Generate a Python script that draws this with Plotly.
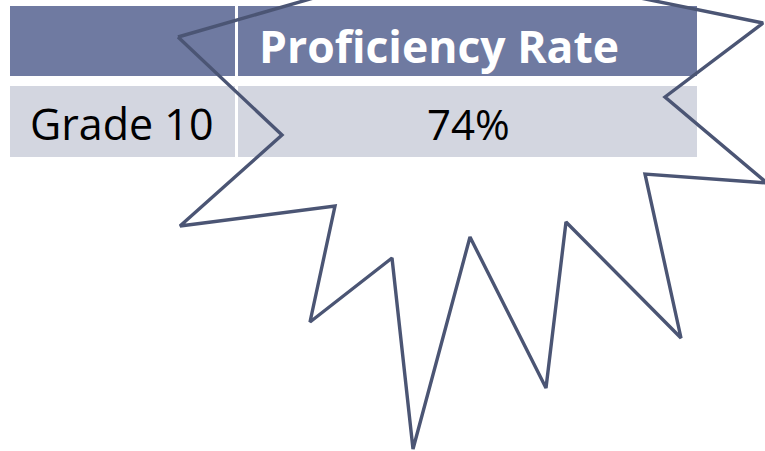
import plotly.graph_objects as go

# ---- data ----
row_labels = ["Grade 10"]
column_headers = ["", "Proficiency Rate"]
proficiency_values = ["74%"]

# starburst outline vertices (pixel space, y downward)
star_x = [178, 282, 180, 335, 310, 392, 413, 470, 546, 566, 681, 645, 767, 665, 763, 449, 178]
star_y = [37, 135, 226, 206, 322, 258, 449, 237, 388, 222, 338, 174, 183, 97, 23, -41, 37]

W, H = 765, 451
header_fill = "#6F7AA1"
row_fill = "#D3D6E0"
line_col = "#4B5574"

fig = go.Figure()

# table geometry
col_edges = [(10, 235), (238, 697)]
header_band = (6, 76)
row_band = (86, 157)

shapes = []
for (x0, x1) in col_edges:
    shapes.append(dict(type="rect", xref="x", yref="y", x0=x0, x1=x1,
                       y0=header_band[0], y1=header_band[1],
                       fillcolor=header_fill, line=dict(width=0), layer="below"))
    shapes.append(dict(type="rect", xref="x", yref="y", x0=x0, x1=x1,
                       y0=row_band[0], y1=row_band[1],
                       fillcolor=row_fill, line=dict(width=0), layer="below"))

annotations = []
annotations.append(dict(x=439, y=45, xref="x", yref="y",
                        text="<b>" + column_headers[1] + "</b>", showarrow=False,
                        font=dict(family="Open Sans", size=44.5, color="white")))
annotations.append(dict(x=122, y=123, xref="x", yref="y",
                        text=row_labels[0], showarrow=False,
                        font=dict(family="Open Sans", size=43, color="black")))
annotations.append(dict(x=468, y=123, xref="x", yref="y",
                        text=proficiency_values[0], showarrow=False,
                        font=dict(family="Open Sans", size=42, color="black")))

fig.add_trace(go.Scatter(x=star_x, y=star_y, mode="lines",
                         line=dict(color=line_col, width=3.4),
                         hoverinfo="skip", showlegend=False))

fig.update_layout(
    width=W, height=H,
    margin=dict(l=0, r=0, t=0, b=0),
    paper_bgcolor="white", plot_bgcolor="white",
    xaxis=dict(range=[0, W], visible=False, fixedrange=True),
    yaxis=dict(range=[H, 0], visible=False, fixedrange=True),
    shapes=shapes, annotations=annotations,
)

fig.write_html("out.html",
               config={"displayModeBar": False, "staticPlot": True},
               post_script="document.body.style.margin='0';document.body.style.overflow='hidden';")
